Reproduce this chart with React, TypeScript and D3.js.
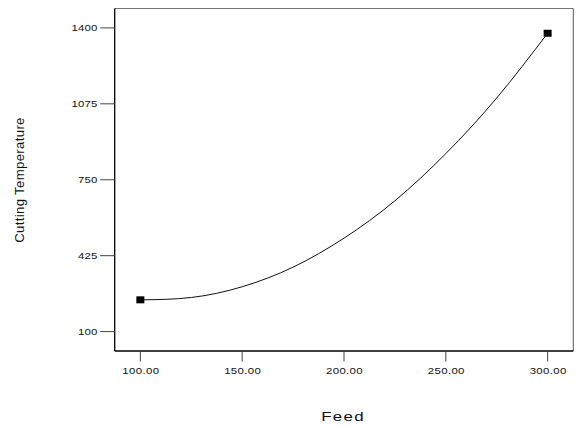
import React from 'react';
import * as d3 from 'd3';

// fitted response curve
const feed = [100, 125, 150, 175, 200, 225, 250, 275, 300];
const temperature = [236, 246, 292, 376, 500, 660, 862, 1100, 1377];

// design points shown as squares
const pointFeed = [100, 300];
const pointTemp = [236, 1377];

const xTicks = [100, 150, 200, 250, 300];
const yTicks = [100, 425, 750, 1075, 1400];

const W = 577;
const H = 427;
const frame = { left: 114.7, right: 573.3, top: 8.5, bottom: 351 };

export default function App() {
  const x = d3.scaleLinear().domain([87.4, 312.6]).range([frame.left, frame.right]);
  const y = d3.scaleLinear().domain([17, 1483]).range([frame.bottom, frame.top]);

  const line = d3.line<number>()
    .x((_, i) => x(feed[i]))
    .y(d => y(d))
    .curve(d3.curveNatural);

  const font = 'Arial, "Liberation Sans", Helvetica, sans-serif';

  return (
    <svg width={W} height={H} style={{ position: 'absolute', left: 0, top: 0, background: '#fff' }}
      fontFamily={font}>
      {/* frame: top/right lighter */}
      <line x1={frame.left} x2={frame.right} y1={frame.top} y2={frame.top} stroke="#777" strokeWidth={1} />
      <line x1={frame.right} x2={frame.right} y1={frame.top} y2={frame.bottom} stroke="#555" strokeWidth={1} />
      <line x1={frame.left} x2={frame.left} y1={frame.top} y2={frame.bottom} stroke="#000" strokeWidth={1.3} />
      <line x1={frame.left} x2={frame.right} y1={frame.bottom} y2={frame.bottom} stroke="#000" strokeWidth={1.3} />

      {yTicks.map(t => (
        <g key={t}>
          <line x1={frame.left - 14.5} x2={frame.left} y1={y(t)} y2={y(t)} stroke="#444" strokeWidth={1} />
          <text transform={`translate(${frame.left - 17},${y(t)}) scale(1.2,1)`} dy="0.35em"
            textAnchor="end" fontSize={9.5} letterSpacing={0.2} fill="#111">{t}</text>
        </g>
      ))}

      {xTicks.map(t => (
        <g key={t}>
          <line x1={x(t)} x2={x(t)} y1={frame.bottom} y2={frame.bottom + 10.5} stroke="#444" strokeWidth={1} />
          <text transform={`translate(${x(t) + 0.5},374) scale(1.2,1)`} textAnchor="middle"
            fontSize={9.5} letterSpacing={0.3} fill="#111">{d3.format('.2f')(t)}</text>
        </g>
      ))}

      <path d={line(temperature) || ''} fill="none" stroke="#111" strokeWidth={1} />

      {pointFeed.map((f, i) => (
        <rect key={f} x={x(f) - 4} y={y(pointTemp[i]) - 3.5} width={8} height={7} fill="#000" />
      ))}

      <text transform="translate(343,421) scale(1.3,1)" textAnchor="middle" fontSize={13}
        letterSpacing={1} fill="#111">Feed</text>
      <text transform="translate(23.5,180) rotate(-90) scale(1.1,1)" textAnchor="middle" fontSize={12}
        letterSpacing={0.3} fill="#111">Cutting Temperature</text>
    </svg>
  );
}
